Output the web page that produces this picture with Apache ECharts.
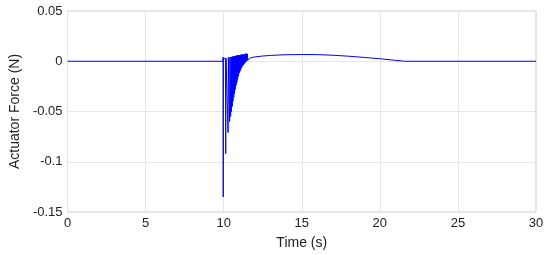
<!DOCTYPE html>
<html>
<head>
<meta charset="utf-8">
<script src="https://cdn.jsdelivr.net/npm/echarts@6/dist/echarts.min.js"></script>
<style>
  html, body { margin: 0; padding: 0; background: #fff; }
  #chart { width: 550px; height: 255px; }
</style>
</head>
<body>
<div id="chart"></div>
<script>
// time (s) and actuator force (N)
var timeVals = [
  0, 9.95, 9.96, 9.97, 9.98, 10.11, 10.13, 10.15, 10.26, 10.28, 10.30, 10.37, 10.38, 10.40,
  10.42, 10.445, 10.47, 10.495, 10.52, 10.545, 10.57, 10.595, 10.62, 10.645, 10.67, 10.695,
  10.72, 10.745, 10.77, 10.795, 10.82, 10.845, 10.87, 10.895, 10.92, 10.945, 10.97, 10.995,
  11.02, 11.045, 11.07, 11.095, 11.12, 11.145, 11.17, 11.195, 11.22, 11.245, 11.27, 11.295,
  11.32, 11.345, 11.37, 11.395, 11.42, 11.445, 11.47, 11.495, 11.52, 11.545,
  11.7, 12, 12.5, 13, 14, 15, 16, 17, 18, 19, 20, 21, 21.6, 22, 25, 30
];
var forceVals = [
  0, 0, 0.004, -0.135, 0.003, 0.003, -0.092, 0.003, 0.003, -0.071, 0.004, 0.004, -0.060, 0.004,
  0.0040, -0.055, 0.0042, -0.050, 0.0044, -0.045, 0.0046, -0.040, 0.0048, -0.036, 0.0050, -0.032,
  0.0052, -0.028, 0.0054, -0.024, 0.0056, -0.021, 0.0058, -0.018, 0.0060, -0.015, 0.0061, -0.012,
  0.0062, -0.010, 0.0064, -0.008, 0.0065, -0.0065, 0.0066, -0.005, 0.0068, -0.004, 0.0070, -0.003,
  0.0071, -0.002, 0.0073, -0.001, 0.0075, 0.0000, 0.0077, 0.0005, 0.0072, 0.001,
  0.0033, 0.0043, 0.0052, 0.0058, 0.0065, 0.0067, 0.0066, 0.0060, 0.0050, 0.0038, 0.0025, 0.0009, 0, 0, 0, 0
];
var xTicks = [0, 5, 10, 15, 20, 25, 30];
var yTicks = [-0.15, -0.1, -0.05, 0, 0.05];

var points = timeVals.map(function(t, i){ return [t, forceVals[i]]; });

var font = 'Liberation Sans, Arial, Helvetica, sans-serif';
var chart = echarts.init(document.getElementById('chart'), null, {renderer: 'canvas'});
chart.setOption({
  animation: false,
  grid: { left: 63, right: 14, top: 11, bottom: 42, show: true, borderColor: '#c8c8c8', borderWidth: 1 },
  xAxis: {
    type: 'value', min: xTicks[0], max: xTicks[xTicks.length - 1], interval: 5,
    name: 'Time (s)', nameLocation: 'middle', nameGap: 24,
    nameTextStyle: { fontFamily: font, fontSize: 14, color: '#222' },
    axisLine: { show: false }, axisTick: { show: false },
    axisLabel: { fontFamily: font, fontSize: 13, color: '#222', margin: 5 },
    splitLine: { show: true, lineStyle: { color: '#e6e6e6', width: 1 } }
  },
  yAxis: {
    type: 'value', min: yTicks[0], max: yTicks[yTicks.length - 1], interval: 0.05,
    name: 'Actuator Force (N)', nameLocation: 'middle', nameGap: 42,
    nameTextStyle: { fontFamily: font, fontSize: 14, color: '#222' },
    axisLine: { show: false }, axisTick: { show: false },
    axisLabel: { fontFamily: font, fontSize: 13, color: '#222', margin: 5,
      formatter: function(v){ return String(Math.round(v * 100) / 100); } },
    splitLine: { show: true, lineStyle: { color: '#e6e6e6', width: 1 } }
  },
  series: [{
    type: 'line', data: points, showSymbol: false, symbol: 'none',
    lineStyle: { color: '#0000ff', width: 1 }
  }]
});
</script>
</body>
</html>
